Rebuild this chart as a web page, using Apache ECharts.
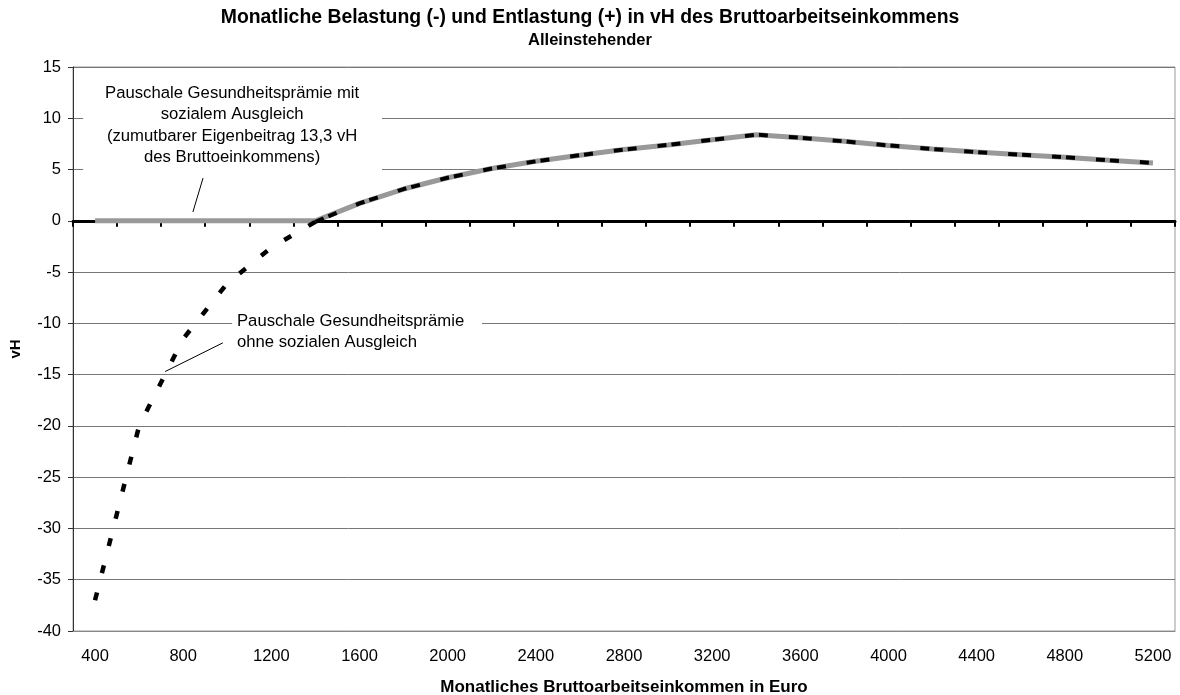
<!DOCTYPE html>
<html>
<head>
<meta charset="utf-8">
<script src="https://cdn.jsdelivr.net/npm/echarts@6/dist/echarts.min.js"></script>
<style>
  html, body { margin: 0; padding: 0; background: #fff; }
  #chart { width: 1180px; height: 695px; }
</style>
</head>
<body>
<div id="chart"></div>
<script>
// Monthly gross income (Euro), one category every 200 Euro
const incomeLabels = ['400', '600', '800', '1000', '1200', '1400', '1600', '1800', '2000', '2200',
  '2400', '2600', '2800', '3000', '3200', '3400', '3600', '3800', '4000', '4200',
  '4400', '4600', '4800', '5000', '5200'];

// Burden (-) / relief (+) in vH of gross income, flat premium with social compensation
const withCompensation = [0, 0, 0, 0, 0, 0, 1.7, 3.1, 4.2, 5.1,
  5.8, 6.4, 6.95, 7.4, 7.9, 8.4, 8.1, 7.75, 7.35, 7.0,
  6.7, 6.45, 6.2, 5.9, 5.65];

// Same, flat premium without social compensation
const withoutCompensation = [-37, -20, -11.5, -6.1, -2.6, -0.1, 1.7, 3.1, 4.2, 5.1,
  5.8, 6.4, 6.95, 7.4, 7.9, 8.4, 8.1, 7.75, 7.35, 7.0,
  6.7, 6.45, 6.2, 5.9, 5.65];

// Value axis range
const yMin = -40, yMax = 15, yStep = 5;

const titleText = 'Monatliche Belastung (-) und Entlastung (+) in vH des Bruttoarbeitseinkommens';
const subtitleText = 'Alleinstehender';
const xAxisTitle = 'Monatliches Bruttoarbeitseinkommen in Euro';
const yAxisTitle = 'vH';

const noteWithText = 'Pauschale Gesundheitsprämie mit\nsozialem Ausgleich\n(zumutbarer Eigenbeitrag 13,3 vH\ndes Bruttoeinkommens)';
const noteWithoutText = 'Pauschale Gesundheitsprämie\nohne sozialen Ausgleich';

// Steep part (up to 1400) and flat part of the dashed curve use different dash rhythms
const steepEnd = 5;

const FONT = '"Liberation Sans", Arial, sans-serif';

const chart = echarts.init(document.getElementById('chart'), null, { renderer: 'canvas' });

chart.setOption({
  animation: false,
  backgroundColor: '#fff',
  textStyle: { fontFamily: FONT },
  title: [
    {
      text: titleText, left: 'center', top: 8, padding: 0,
      textStyle: { fontFamily: FONT, fontSize: 19.4, fontWeight: 'bold', color: '#000' }
    },
    {
      text: subtitleText, left: 'center', top: 32, padding: 0,
      textStyle: { fontFamily: FONT, fontSize: 16.5, fontWeight: 'bold', color: '#000' }
    }
  ],
  grid: {
    left: 73, right: 5, top: 67, bottom: 64,
    outerBoundsMode: 'none', containLabel: false,
    show: true, borderColor: '#999', borderWidth: 1, backgroundColor: 'transparent'
  },
  xAxis: [
    {
      type: 'category', data: incomeLabels, position: 'bottom', boundaryGap: true,
      axisLine: { onZero: false, lineStyle: { color: '#888', width: 1 } },
      axisTick: { show: false },
      axisLabel: { interval: 1, color: '#000', fontSize: 16.5, fontFamily: FONT, margin: 17 },
      splitLine: { show: false },
      name: xAxisTitle, nameLocation: 'middle', nameGap: 48,
      nameTextStyle: { fontFamily: FONT, fontSize: 17, fontWeight: 'bold', color: '#000' }
    },
    {
      // zero line with its category ticks
      type: 'category', data: incomeLabels, position: 'top', boundaryGap: true,
      axisLine: { onZero: true, lineStyle: { color: '#000', width: 3 } },
      axisTick: { show: true, inside: true, interval: 0, length: 6, lineStyle: { color: '#000', width: 2 } },
      axisLabel: { show: false },
      splitLine: { show: false }
    }
  ],
  yAxis: {
    type: 'value', min: yMin, max: yMax, interval: yStep,
    axisLine: { show: true, lineStyle: { color: '#333', width: 1 } },
    axisTick: { show: true, length: 5, lineStyle: { color: '#333' } },
    axisLabel: { color: '#000', fontSize: 16.5, fontFamily: FONT, margin: 12 },
    splitLine: { show: true, lineStyle: { color: '#777', width: 1 } },
    name: yAxisTitle, nameLocation: 'middle', nameGap: 50, nameRotate: 90,
    nameTextStyle: { fontFamily: FONT, fontSize: 15, fontWeight: 'bold', color: '#000' }
  },
  series: [
    {
      name: 'mit sozialem Ausgleich', type: 'line', xAxisIndex: 0, yAxisIndex: 0,
      data: withCompensation, symbol: 'none', z: 3,
      lineStyle: { color: '#999', width: 5 }
    },
    {
      name: 'ohne sozialen Ausgleich', type: 'line', xAxisIndex: 0, yAxisIndex: 0,
      data: withoutCompensation.map((v, i) => (i <= steepEnd ? v : null)),
      symbol: 'none', z: 4,
      lineStyle: { color: '#000', width: 4.5, type: [8, 20], cap: 'butt' }
    },
    {
      name: 'ohne sozialen Ausgleich', type: 'line', xAxisIndex: 0, yAxisIndex: 0,
      data: withoutCompensation.map((v, i) => (i >= steepEnd ? v : null)),
      symbol: 'none', z: 4,
      lineStyle: { color: '#000', width: 4, type: [9, 5, 9, 21], dashOffset: 0, cap: 'butt' }
    }
  ]
});

// Annotation anchors in (category index, value) coordinates
const notes = [
  {
    text: noteWithText, align: 'center',
    box: [[-0.27, 13.9], [6.51, 4.4]],
    textAt: [3.11, 9.3],
    pointer: [[2.45, 4.17], [2.22, 0.86]]
  },
  {
    text: noteWithoutText, align: 'left',
    box: [[3.11, -8.7], [8.78, -12.8]],
    textAt: [3.22, -10.8],
    pointer: [[2.90, -11.9], [1.59, -14.7]]
  }
];

function toPixel(i, v) {
  const a = chart.convertToPixel({ gridIndex: 0 }, [0, v]);
  const b = chart.convertToPixel({ gridIndex: 0 }, [1, v]);
  return [a[0] + (b[0] - a[0]) * i, a[1]];
}

const elements = [];
notes.forEach(n => {
  const p1 = toPixel(n.box[0][0], n.box[0][1]);
  const p2 = toPixel(n.box[1][0], n.box[1][1]);
  elements.push({
    type: 'rect', z: 50,
    shape: { x: p1[0], y: p1[1], width: p2[0] - p1[0], height: p2[1] - p1[1] },
    style: { fill: '#fff' }
  });
  const t = toPixel(n.textAt[0], n.textAt[1]);
  elements.push({
    type: 'text', z: 51,
    style: {
      text: n.text, x: t[0], y: t[1], fill: '#000',
      fontFamily: FONT, fontSize: 16.7, lineHeight: 21.3,
      align: n.align, verticalAlign: 'middle'
    }
  });
  const a = toPixel(n.pointer[0][0], n.pointer[0][1]);
  const b = toPixel(n.pointer[1][0], n.pointer[1][1]);
  elements.push({
    type: 'line', z: 51,
    shape: { x1: a[0], y1: a[1], x2: b[0], y2: b[1] },
    style: { stroke: '#000', lineWidth: 1 }
  });
});

chart.setOption({ graphic: { elements } });
</script>
</body>
</html>
